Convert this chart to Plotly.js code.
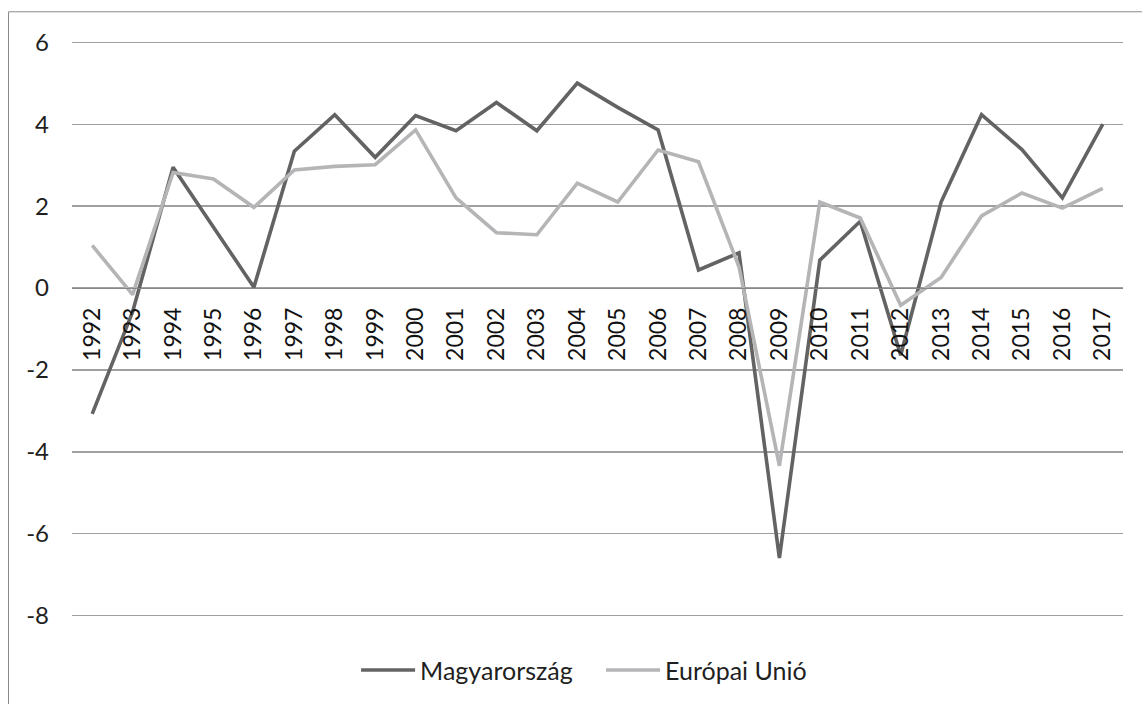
<!DOCTYPE html>
<html>
<head>
<meta charset="utf-8">
<script src="https://cdn.plot.ly/plotly-3.0.1.min.js"></script>
<style>
  html, body { margin: 0; padding: 0; background: #fff; }
  #chart { width: 1142px; height: 704px; }
</style>
</head>
<body>
<div id="chart"></div>
<script>
const years = ['1992','1993','1994','1995','1996','1997','1998','1999','2000','2001','2002','2003','2004',
               '2005','2006','2007','2008','2009','2010','2011','2012','2013','2014','2015','2016','2017'];
const magyarorszag = [-3.07, -0.58, 2.95, 1.48, 0.02, 3.34, 4.23, 3.19, 4.21, 3.84, 4.53, 3.84, 5.0,
                      4.41, 3.86, 0.44, 0.86, -6.59, 0.68, 1.63, -1.64, 2.1, 4.23, 3.38, 2.2, 4.0];
const europaiUnio = [1.04, -0.16, 2.82, 2.66, 1.97, 2.88, 2.97, 3.01, 3.86, 2.2, 1.35, 1.3, 2.56,
                     2.1, 3.37, 3.08, 0.52, -4.34, 2.1, 1.71, -0.42, 0.26, 1.76, 2.32, 1.95, 2.43];
const seriesNames = ['Magyarország', 'Európai Unió'];
const yTickVals = [-8, -6, -4, -2, 0, 2, 4, 6];
const yTickText = ['-8', '-6', '-4', '-2', '0', '2', '4', '6'];

const traces = [
  { x: years, y: magyarorszag, name: seriesNames[0], type: 'scatter', mode: 'lines',
    line: { color: '#636363', width: 3.6 } },
  { x: years, y: europaiUnio, name: seriesNames[1], type: 'scatter', mode: 'lines',
    line: { color: '#b5b5b7', width: 3.6 } }
];

const layout = {
  width: 1142, height: 704,
  margin: { l: 72, r: 19, t: 41, b: 87, autoexpand: false },
  paper_bgcolor: '#ffffff', plot_bgcolor: '#ffffff',
  showlegend: true,
  legend: {
    orientation: 'h', x: 0.2703, xanchor: 'left', y: -0.0924, yanchor: 'middle',
    font: { family: 'Lato, sans-serif', size: 25, color: '#1f1f1f' },
    itemwidth: 54, entrywidth: 176, entrywidthmode: 'pixels', traceorder: 'normal'
  },
  xaxis: {
    type: 'category', range: [-0.5, 25.5],
    anchor: 'free', position: 8.03 / 14.06,
    showgrid: false, zeroline: false,
    showline: true, linecolor: '#878787', linewidth: 1.3,
    ticks: '', tickangle: -90, ticklabelstandoff: 9,
    tickfont: { family: 'Lato, sans-serif', size: 23, color: '#111111' }
  },
  yaxis: {
    range: [-8.03, 6.03], tickvals: yTickVals, ticktext: yTickText,
    showgrid: true, gridcolor: '#a0a0a0', gridwidth: 1.3,
    zeroline: false, showline: false, ticks: '', ticklabelstandoff: 22,
    tickfont: { family: 'Lato, sans-serif', size: 24, color: '#1f1f1f' }
  },
  shapes: [
    { type: 'rect', xref: 'paper', yref: 'paper', x0: -0.0604, x1: 1.2, y0: -0.3, y1: 1.0507,
      line: { color: '#8a8a8a', width: 1 }, fillcolor: 'rgba(0,0,0,0)', layer: 'below' }
  ]
};

Plotly.newPlot('chart', traces, layout, { displayModeBar: false, staticPlot: true });
</script>
</body>
</html>
